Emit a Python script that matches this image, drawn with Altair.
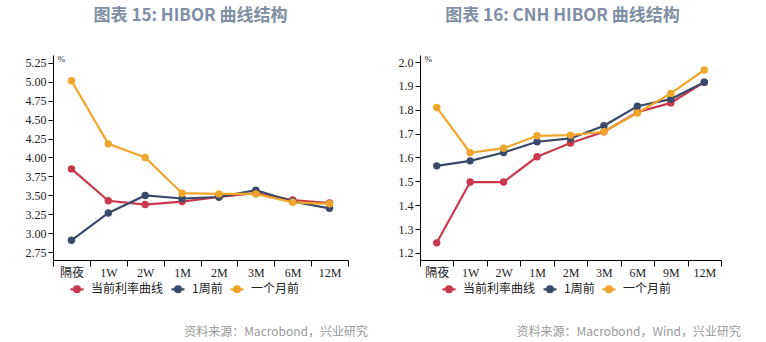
import altair as alt
import pandas as pd

series_names = ["当前利率曲线", "1周前", "一个月前"]
colors = ["#c8394e", "#3b4a68", "#f0a62a"]

hibor_tenors = ["隔夜", "1W", "2W", "1M", "2M", "3M", "6M", "12M"]
hibor_now = [3.85, 3.43, 3.38, 3.42, 3.48, 3.53, 3.44, 3.40]
hibor_1w = [2.91, 3.27, 3.50, 3.46, 3.48, 3.57, 3.42, 3.33]
hibor_1m = [5.01, 4.18, 4.00, 3.53, 3.52, 3.52, 3.41, 3.39]

cnh_tenors = ["隔夜", "1W", "2W", "1M", "2M", "3M", "6M", "9M", "12M"]
cnh_now = [1.242, 1.497, 1.497, 1.603, 1.661, 1.708, 1.790, 1.829, 1.916]
cnh_1w = [1.565, 1.586, 1.621, 1.666, 1.680, 1.733, 1.815, 1.845, 1.916]
cnh_1m = [1.810, 1.620, 1.639, 1.691, 1.694, 1.708, 1.787, 1.869, 1.967]

title_left = "图表 15: HIBOR 曲线结构"
title_right = "图表 16: CNH HIBOR 曲线结构"
source_left = "资料来源：Macrobond，兴业研究"
source_right = "资料来源：Macrobond，Wind，兴业研究"

CJK = "Noto Sans CJK SC"
SERIF = "Liberation Serif, Noto Sans CJK SC"


def make_df(tenors, lists):
    rows = []
    for name, vals in zip(series_names, lists):
        for t, v in zip(tenors, vals):
            rows.append({"tenor": t, "value": v, "series": name})
    return pd.DataFrame(rows)


legend_symbol = "M-1,0L1,0M-0.45,0A0.45,0.45 0 1 1 0.45,0A0.45,0.45 0 1 1 -0.45,0Z"


def panel(tenors, lists, domain, ticks, fmt, width, title, source, legend_x, src_x, title_dx):
    df = make_df(tenors, lists)
    base = alt.Chart(df)
    lines = base.mark_line(
        strokeWidth=2.2,
        point=alt.OverlayMarkDef(filled=True, size=55, opacity=1),
    ).encode(
        x=alt.X(
            "tenor:N",
            sort=tenors,
            scale=alt.Scale(paddingInner=0, paddingOuter=0),
            axis=alt.Axis(
                title=None,
                labelAngle=0,
                tickBand="extent",
                tickSize=6,
                tickColor="#000",
                domainColor="#000",
                labelFont=SERIF,
                labelFontSize=12,
                labelColor="#222",
                labelPadding=1,
                grid=False,
            ),
        ),
        y=alt.Y(
            "value:Q",
            scale=alt.Scale(domain=domain, zero=False, nice=False),
            axis=alt.Axis(
                title="%",
                titleAngle=0,
                titleX=4,
                titleY=8,
                titleAlign="left",
                titleFont=SERIF,
                titleFontSize=9,
                titleFontWeight="normal",
                titleColor="#222",
                values=ticks,
                format=fmt,
                tickSize=5,
                tickColor="#000",
                domainColor="#000",
                labelFont=SERIF,
                labelFontSize=12,
                labelColor="#222",
                labelPadding=2,
                grid=False,
            ),
        ),
        color=alt.Color(
            "series:N",
            sort=series_names,
            scale=alt.Scale(domain=series_names, range=colors),
            legend=alt.Legend(
                title=None,
                orient="none",
                direction="horizontal",
                legendX=legend_x,
                legendY=226,
                symbolType=legend_symbol,
                symbolSize=169,
                symbolStrokeWidth=2.2,
                labelFont=CJK,
                labelFontSize=12,
                labelColor="#222",
                labelOffset=6,
                columnPadding=3,
            ),
        ),
    )
    src = alt.Chart(pd.DataFrame({"t": [source]})).mark_text(
        align="right", baseline="middle", font=CJK, fontSize=12, color="#9a9a9a"
    ).encode(x=alt.value(src_x), y=alt.value(277), text="t:N")
    return alt.layer(lines, src).properties(
        width=width,
        height=205,
        title=alt.TitleParams(
            title,
            font=CJK,
            fontSize=17,
            fontWeight="bold",
            color="#7f8ea5",
            anchor="middle",
            frame="group",
            offset=29,
            dx=title_dx,
        ),
    )


left = panel(hibor_tenors, [hibor_now, hibor_1w, hibor_1m], [2.65, 5.35],
             [2.75, 3.0, 3.25, 3.5, 3.75, 4.0, 4.25, 4.5, 4.75, 5.0, 5.25], ".2f",
             295, title_left, source_left, 16, 315, -10)
right = panel(cnh_tenors, [cnh_now, cnh_1w, cnh_1m], [1.17, 2.03],
              [1.2, 1.3, 1.4, 1.5, 1.6, 1.7, 1.8, 1.9, 2.0], ".1f",
              301, title_right, source_right, 21, 321, -8)

chart = alt.hconcat(left, right, spacing=30).resolve_scale(
    color="independent", y="independent", x="independent"
).resolve_legend(color="independent").properties(
    padding={"left": 25, "top": 7, "right": 0, "bottom": 0},
    background="white",
).configure_view(stroke=None, strokeWidth=0)

chart.save("out.html", embed_options={"renderer": "svg", "actions": False})
